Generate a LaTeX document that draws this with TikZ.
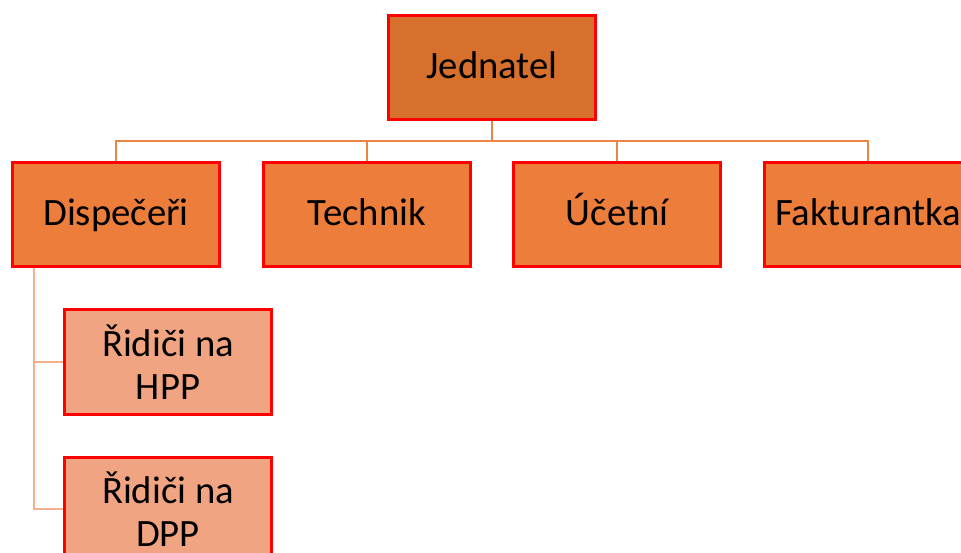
\documentclass[tikz,border=0pt]{standalone}
\usepackage{fontspec}
\setmainfont{Carlito}
\definecolor{topfill}{HTML}{D7702D}
\definecolor{midfill}{HTML}{ED7D3A}
\definecolor{lowfill}{HTML}{F1A482}
\definecolor{conncol}{HTML}{ED8444}
\definecolor{conncolb}{HTML}{F4AF8C}
\tikzset{
  box/.style={draw=red, line width=3pt, minimum width=207pt, minimum height=104pt,
    inner sep=0pt, align=center, text=black, font=\fontsize{38.7}{43}\selectfont},
  oneline/.style={text height=30pt, text depth=7pt},
  conn/.style={draw=conncol, line width=2pt},
  connb/.style={draw=conncolb, line width=2pt}
}
\begin{document}
\begin{tikzpicture}[x=1pt,y=-1pt]
\useasboundingbox (0,0) rectangle (961,553);
\clip (0,0) rectangle (961,553);
\coordinate (bus) at (0,141);
\coordinate (trunk) at (34,0);
\node[box, oneline, fill=topfill] (jed) at (492,67.5) {Jednatel};
\node[box, oneline, fill=midfill] (dis) at (116,214.5) {Dispečeři};
\node[box, oneline, fill=midfill] (tec) at (367,214.5) {Technik};
\node[box, oneline, fill=midfill] (uce) at (617,214.5) {Účetní};
\node[box, oneline, fill=midfill] (fak) at (868,214.5) {Fakturantka};
\node[box, fill=lowfill] (hpp) at (168,362) {Řidiči na\\HPP};
\node[box, fill=lowfill] (dpp) at (168,509) {Řidiči na\\DPP};
\draw[conn] (jed.south) -- (jed.south |- bus);
\draw[conn] (dis.north) -- (dis.north |- bus) -- (fak.north |- bus) -- (fak.north);
\draw[conn] (tec.north) -- (tec.north |- bus);
\draw[conn] (uce.north) -- (uce.north |- bus);
\draw[connb] (dis.south -| trunk) -- (trunk |- dpp.west) -- (dpp.west);
\draw[connb] (trunk |- hpp.west) -- (hpp.west);
\end{tikzpicture}
\end{document}
